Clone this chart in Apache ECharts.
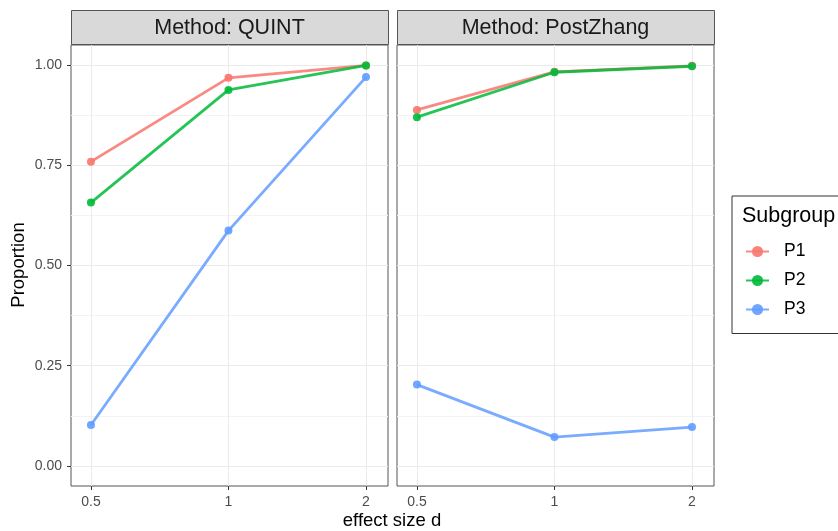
<!DOCTYPE html>
<html><head><meta charset="utf-8">
<script src="https://cdn.jsdelivr.net/npm/echarts@6/dist/echarts.min.js"></script>
<style>html,body{margin:0;padding:0;background:#fff}#c{width:838px;height:531px}</style>
</head><body><div id="c"></div>
<script>
const categories = ['0.5', '1', '2'];
const panels = ['Method: QUINT', 'Method: PostZhang'];
const subgroups = ['P1', 'P2', 'P3'];
const quintP1 = [0.759, 0.968, 0.999];
const quintP2 = [0.657, 0.938, 0.999];
const quintP3 = [0.102, 0.587, 0.970];
const zhangP1 = [0.888, 0.983, 0.998];
const zhangP2 = [0.870, 0.982, 0.997];
const zhangP3 = [0.203, 0.072, 0.097];
const yTicks = [0, 0.25, 0.5, 0.75, 1];
const yMinor = [0.125, 0.375, 0.625, 0.875];
const colors = ['#F8766D', '#00BA38', '#619CFF'];

(function () {
const chart = echarts.init(document.getElementById('c'));
const font = 'Liberation Sans, Arial, sans-serif';
const panelLeft = [71, 397];
const panelW = 317, gTop = 45, gH = 441;

const grids = [], xAxes = [], yAxes = [], series = [], graphics = [];
panelLeft.forEach((L, p) => {
  grids.push({left: L, top: gTop, width: panelW, height: gH, show: true, borderColor: '#555', borderWidth: 1, backgroundColor: '#fff'});
  xAxes.push({type: 'value', gridIndex: p, min: -0.145, max: 2.16,
    axisLine: {show: false, onZero: false},
    axisTick: {show: true, length: 4, lineStyle: {color: '#333'}, customValues: [0, 1, 2]},
    axisLabel: {customValues: [0, 1, 2], formatter: v => categories[Math.round(v)], color: '#4D4D4D', fontSize: 14, fontFamily: font, margin: 9},
    splitLine: {show: true, lineStyle: {color: '#EBEBEB', width: 1}}
  });
  yAxes.push({type: 'value', gridIndex: p, min: -0.05, max: 1.05,
    axisLine: {show: false, onZero: false},
    axisTick: {show: p === 0, length: 4, lineStyle: {color: '#333'}, customValues: yTicks},
    axisLabel: {show: p === 0, customValues: yTicks, formatter: v => v.toFixed(2), color: '#4D4D4D', fontSize: 14, fontFamily: font, margin: 9},
    splitLine: {show: true, lineStyle: {color: '#EBEBEB', width: 1}}
  });
  yAxes.push({type: 'value', gridIndex: p, min: -0.05, max: 1.05, position: 'left',
    axisLine: {show: false, onZero: false},
    axisTick: {show: false, customValues: yMinor},
    axisLabel: {show: false, customValues: yMinor},
    splitLine: {show: true, lineStyle: {color: '#F3F3F3', width: 1}}
  });
  graphics.push({type: 'rect', shape: {x: L + 0.5, y: 10.5, width: panelW, height: 34}, style: {fill: '#D9D9D9', stroke: '#555', lineWidth: 1}, z: 10});
  graphics.push({type: 'text', x: L + panelW / 2, y: 28.5, style: {text: panels[p], font: '21.5px ' + font, fill: '#1A1A1A', align: 'center', verticalAlign: 'middle'}, z: 11});
});

const data = [[quintP1, quintP2, quintP3], [zhangP1, zhangP2, zhangP3]];
data.forEach((pd, p) => {
  pd.forEach((vals, s) => {
    series.push({
      name: subgroups[s], type: 'line', xAxisIndex: p, yAxisIndex: p * 2,
      data: vals.map((v, i) => [i, v]),
      symbol: 'circle', symbolSize: 8, showSymbol: true,
      lineStyle: {width: 2.8, color: colors[s], opacity: 0.85},
      itemStyle: {color: colors[s], opacity: 0.9},
      emphasis: {disabled: true}, animation: false, z: 5 + s
    });
  });
});

graphics.push({type: 'text', x: 392, y: 521, style: {text: 'effect size d', font: '18.5px ' + font, fill: '#000', align: 'center', verticalAlign: 'middle'}});
graphics.push({type: 'text', x: 19, y: 265, rotation: Math.PI / 2, style: {text: 'Proportion', font: '18.5px ' + font, fill: '#000', align: 'center', verticalAlign: 'middle'}});
graphics.push({type: 'text', x: 742, y: 216, style: {text: 'Subgroup', font: '21.5px ' + font, fill: '#000', align: 'left', verticalAlign: 'middle'}, z: 20});

chart.setOption({
  animation: false,
  grid: grids, xAxis: xAxes, yAxis: yAxes, series: series,
  legend: {
    data: subgroups, orient: 'vertical', left: 732, top: 196,
    padding: [46.5, 40, 15, 13], itemWidth: 23, itemHeight: 14, itemGap: 11,
    borderColor: '#333', borderWidth: 1, backgroundColor: '#fff',
    textStyle: {fontSize: 17.5, lineHeight: 18, fontFamily: font, color: '#000', padding: [0, 0, 0, 10]},
    selectedMode: false
  },
  graphic: graphics
});
})();
</script></body></html>
